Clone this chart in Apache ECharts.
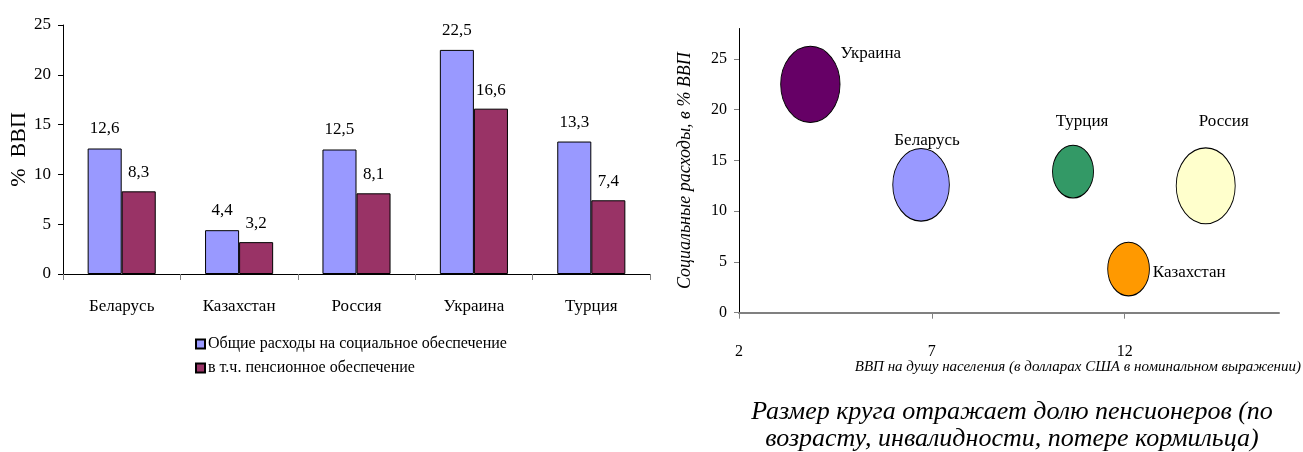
<!DOCTYPE html>
<html>
<head>
<meta charset="utf-8">
<script src="https://cdn.jsdelivr.net/npm/echarts@6/dist/echarts.min.js"></script>
<style>
  html, body { margin: 0; padding: 0; background: #fff; }
  #chart { width: 1303px; height: 452px; }
</style>
</head>
<body>
<div id="chart"></div>
<script>
// Social spending by country, % of GDP
const countries = ['Беларусь', 'Казахстан', 'Россия', 'Украина', 'Турция'];
const socialTotal = [12.6, 4.4, 12.5, 22.5, 13.3];
const pensionPart = [8.3, 3.2, 8.1, 16.6, 7.4];
const seriesNames = ['Общие расходы на социальное обеспечение', 'в т.ч. пенсионное обеспечение'];
const barTicks = [0, 5, 10, 15, 20, 25];

// Bubble chart: GDP per capita vs. social spending, bubble area = pensioner share (relative)
const bubbleNames = ['Украина', 'Беларусь', 'Турция', 'Россия', 'Казахстан'];
const gdpPerCapita = [3.85, 6.72, 10.66, 14.1, 12.1];
const socialSpend = [22.5, 12.6, 13.9, 12.5, 4.3];
const pensionerArea = [35.2, 32.0, 16.8, 34.8, 17.4];
const bubbleXTicks = [2, 7, 12];
const bubbleYTicks = [0, 5, 10, 15, 20, 25];

const serif = '"Liberation Serif", "Times New Roman", serif';

const bubbleColors = {
  'Украина': '#660066',
  'Беларусь': '#9999FF',
  'Турция': '#339966',
  'Россия': '#FFFFCC',
  'Казахстан': '#FF9900'
};
const bubbleLabel = {
  'Украина':   { position: 'right', distance: 0, offset: [0, -31] },
  'Беларусь':  { position: 'top', distance: 0, offset: [6, 1] },
  'Турция':    { position: 'top', distance: 15, offset: [9, 0] },
  'Россия':    { position: 'top', distance: 17, offset: [18, 0] },
  'Казахстан': { position: 'right', distance: 3, offset: [0, 3] }
};

const bubbleData = bubbleNames.map((name, i) => ({
  name: name,
  value: [gdpPerCapita[i], socialSpend[i], pensionerArea[i]],
  itemStyle: { color: bubbleColors[name] },
  label: bubbleLabel[name]
}));

const commaFmt = p => String(p.value).replace('.', ',');

const chart = echarts.init(document.getElementById('chart'), null, { renderer: 'canvas' });

chart.setOption({
  backgroundColor: '#ffffff',
  animation: false,
  textStyle: { fontFamily: serif, color: '#000' },
  legend: {
    left: 190, top: 331,
    orient: 'vertical',
    itemWidth: 9, itemHeight: 9, itemGap: 8,
    icon: 'rect',
    data: seriesNames,
    textStyle: { fontFamily: serif, fontSize: 16, color: '#000', padding: [0, 0, 0, -2] }
  },
  grid: [
    { left: 63, top: 25, width: 587, height: 249 },
    { left: 739, top: 28.5, right: 24, bottom: 139.3 }
  ],
  xAxis: [
    {
      gridIndex: 0,
      type: 'category',
      data: countries,
      boundaryGap: true,
      axisLine: { lineStyle: { color: '#000', width: 1 } },
      axisTick: { show: true, length: 6, lineStyle: { color: '#808080' } },
      axisLabel: { color: '#000', fontFamily: serif, fontSize: 17, margin: 24 }
    },
    {
      gridIndex: 1,
      type: 'value',
      min: 2, max: 16,
      splitLine: { show: false },
      axisLine: { onZero: false, lineStyle: { color: '#808080', width: 2 } },
      axisTick: { show: true, length: 6, customValues: bubbleXTicks, lineStyle: { color: '#808080' } },
      axisLabel: { color: '#000', fontFamily: serif, fontSize: 16, margin: 31, customValues: bubbleXTicks }
    }
  ],
  yAxis: [
    {
      gridIndex: 0,
      type: 'value',
      min: 0, max: 25, interval: 5,
      splitLine: { show: false },
      axisLine: { show: true, lineStyle: { color: '#000', width: 1 } },
      axisTick: { show: true, length: 5, lineStyle: { color: '#000' } },
      axisLabel: { color: '#000', fontFamily: serif, fontSize: 17, margin: 12, customValues: barTicks },
      name: '%  ВВП',
      nameLocation: 'middle',
      nameRotate: 90,
      nameGap: 32,
      nameTextStyle: { fontFamily: serif, fontSize: 22, color: '#000' }
    },
    {
      gridIndex: 1,
      type: 'value',
      min: 0, max: 28,
      splitLine: { show: false },
      axisLine: { show: true, lineStyle: { color: '#000', width: 1 } },
      axisTick: { show: true, length: 5, customValues: bubbleYTicks, lineStyle: { color: '#808080' } },
      axisLabel: { color: '#000', fontFamily: serif, fontSize: 16, margin: 12, customValues: bubbleYTicks },
      name: 'Социальные расходы, в % ВВП',
      nameLocation: 'middle',
      nameRotate: 90,
      nameGap: 45,
      nameTextStyle: { fontFamily: serif, fontSize: 18, fontStyle: 'italic', color: '#000' }
    }
  ],
  graphic: [
    {
      type: 'text',
      right: 2, top: 360,
      style: {
        text: 'ВВП на душу населения (в долларах США в номинальном выражении)',
        font: 'italic 15px ' + serif,
        fill: '#000'
      }
    },
    {
      type: 'text',
      x: 1012, y: 426,
      style: {
        text: 'Размер круга отражает долю пенсионеров (по\nвозрасту, инвалидности, потере кормильца)',
        font: 'italic 26px ' + serif,
        fill: '#000',
        align: 'center',
        verticalAlign: 'middle',
        lineHeight: 27
      }
    }
  ],
  series: [
    {
      name: seriesNames[0],
      type: 'bar',
      xAxisIndex: 0, yAxisIndex: 0,
      data: socialTotal,
      barGap: '0%',
      barCategoryGap: '42%',
      itemStyle: { color: '#9999FF', borderColor: '#000', borderWidth: 1 },
      label: {
        show: true, position: 'top', distance: 11,
        fontFamily: serif, fontSize: 17, color: '#000',
        formatter: commaFmt
      }
    },
    {
      name: seriesNames[1],
      type: 'bar',
      xAxisIndex: 0, yAxisIndex: 0,
      data: pensionPart,
      itemStyle: { color: '#993366', borderColor: '#000', borderWidth: 1 },
      label: {
        show: true, position: 'top', distance: 10,
        fontFamily: serif, fontSize: 17, color: '#000',
        formatter: commaFmt
      }
    },
    {
      name: 'bubbles',
      type: 'scatter',
      xAxisIndex: 1, yAxisIndex: 1,
      data: bubbleData,
      symbol: 'circle',
      symbolSize: v => {
        const d = 10 * Math.sqrt(v[2]);
        return [d, d * 1.285];
      },
      itemStyle: { borderColor: '#000', borderWidth: 1, opacity: 1 },
      label: {
        show: true,
        formatter: p => p.name,
        fontFamily: serif, fontSize: 17, color: '#000'
      }
    }
  ]
});
</script>
</body>
</html>
